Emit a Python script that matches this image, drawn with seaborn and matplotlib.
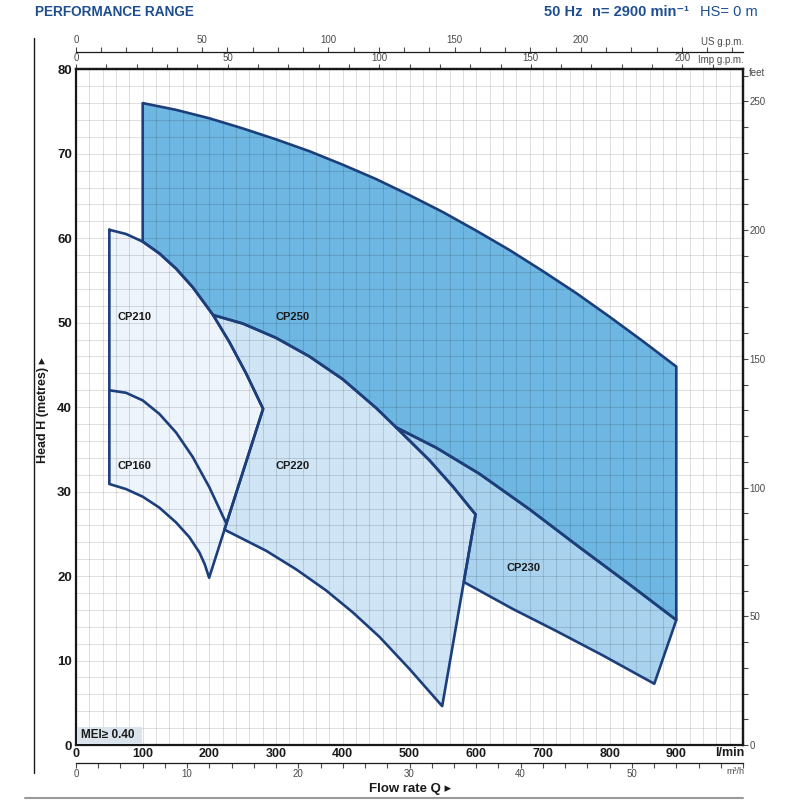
import numpy as np
import matplotlib
matplotlib.use("Agg")
import matplotlib.pyplot as plt
import seaborn as sns
from matplotlib.ticker import MultipleLocator, FixedLocator
from matplotlib.patches import Rectangle
from matplotlib.lines import Line2D

# ---------------- data (flow Q in l/min, head H in m) ----------------
cp250_top_q = [100, 150, 200, 250, 300, 350, 400, 450, 500, 550, 600, 650, 700, 750, 800, 850, 900]
cp250_top_h = [76.0, 75.2, 74.2, 73.0, 71.7, 70.3, 68.7, 67.0, 65.1, 63.1, 60.9, 58.6, 56.1, 53.5, 50.7, 47.8, 44.8]
cp250_right_h = 14.8

cp230_top_q = [480, 540, 605, 680, 755, 830, 900]
cp230_top_h = [37.6, 35.2, 32.1, 27.9, 23.4, 19.0, 14.8]
cp230_bot_q = [581.4, 655, 720, 790, 867]
cp230_bot_h = [19.3, 16.1, 13.5, 10.6, 7.25]

cp220_top_q = [205.6, 250, 300, 350, 400, 450, 480, 530, 565, 599]
cp220_top_h = [50.9, 49.9, 48.2, 46.0, 43.3, 39.9, 37.6, 33.7, 30.6, 27.3]
cp220_bot_q = [222.5, 285, 330, 375, 415, 455, 500, 549]
cp220_bot_h = [25.5, 23.0, 20.8, 18.3, 15.7, 12.8, 9.0, 4.6]

cp210_top_q = [50, 75, 100, 125, 150, 175, 205.6, 230, 255, 280.5]
cp210_top_h = [61.0, 60.5, 59.6, 58.2, 56.4, 54.2, 50.9, 47.7, 44.0, 39.8]
cp210_tip_q = 199.6
cp210_tip_h = 19.8

cp160_top_q = [50, 75, 100, 125, 150, 175, 200, 225.5]
cp160_top_h = [42.0, 41.7, 40.8, 39.2, 37.0, 34.1, 30.5, 26.2]
cp160_bot_q = [50, 75, 100, 125, 150, 170, 185, 193, 199.6]
cp160_bot_h = [30.9, 30.3, 29.4, 28.1, 26.35, 24.6, 22.8, 21.4, 19.8]

pump_names = ["CP250", "CP230", "CP220", "CP210", "CP160"]

x_tick_vals = [0, 100, 200, 300, 400, 500, 600, 700, 800, 900]
y_tick_vals = [0, 10, 20, 30, 40, 50, 60, 70, 80]
us_gpm_ticks = [0, 50, 100, 150, 200]
imp_gpm_ticks = [0, 50, 100, 150, 200]
m3h_ticks = [0, 10, 20, 30, 40, 50]
feet_ticks = [0, 50, 100, 150, 200, 250]

# ---------------- style ----------------
sns.set_theme(style="white")
FAM = ["Liberation Sans", "DejaVu Sans"]
plt.rcParams["font.family"] = FAM

BLUE_TXT = "#1f4e8f"
EDGE = "#1c3f7c"
C250 = "#6eb7e2"
C230 = "#a9d2ee"
C220 = "#cfe4f5"
C210 = "#eef4fb"
GRAY = "#4a4a4a"
INK = "#1a1a1a"

fig = plt.figure(figsize=(8, 8), dpi=100)
L, R, B, T = 76 / 800, 743 / 800, 1 - 745 / 800, 1 - 69.3 / 800
ax = fig.add_axes([L, B, R - L, T - B])
ax.set_xlim(0, 1000)
ax.set_ylim(0, 80)

a = np.asarray
t250q, t250h = a(cp250_top_q), a(cp250_top_h)
t230q, t230h = a(cp230_top_q), a(cp230_top_h)
b230q, b230h = a(cp230_bot_q), a(cp230_bot_h)
t220q, t220h = a(cp220_top_q), a(cp220_top_h)
b220q, b220h = a(cp220_bot_q), a(cp220_bot_h)
t210q, t210h = a(cp210_top_q), a(cp210_top_h)
t160q, t160h = a(cp160_top_q), a(cp160_top_h)
b160q, b160h = a(cp160_bot_q), a(cp160_bot_h)

# polygons built from the boundary arrays
m220_low = t220q <= t230q[0]
m210_low = (t210q >= t250q[0]) & (t210q < t220q[0])
poly250_q = np.concatenate([[t250q[0]], t250q, [t250q[-1]], t230q[::-1][1:],
                            t220q[m220_low][::-1][1:], t210q[m210_low][::-1]])
poly250_h = np.concatenate([[t210h[t210q == t250q[0]][0]], t250h, [cp250_right_h], t230h[::-1][1:],
                            t220h[m220_low][::-1][1:], t210h[m210_low][::-1]])

m220_mid = t220q > t230q[0]
poly230_q = np.concatenate([t230q, b230q[::-1], t220q[m220_mid][::-1]])
poly230_h = np.concatenate([t230h, b230h[::-1], t220h[m220_mid][::-1]])

m210_hi = t210q > t220q[0]
poly220_q = np.concatenate([t220q, b220q[::-1], t210q[m210_hi][::-1]])
poly220_h = np.concatenate([t220h, b220h[::-1], t210h[m210_hi][::-1]])

poly210_q = np.concatenate([t210q, [cp210_tip_q], b160q[::-1][1:]])
poly210_h = np.concatenate([t210h, [cp210_tip_h], b160h[::-1][1:]])

polys = [(poly250_q, poly250_h, C250), (poly230_q, poly230_h, C230),
         (poly220_q, poly220_h, C220), (poly210_q, poly210_h, C210)]

for q, h, c in polys:
    ax.fill(q, h, color=c, lw=0, zorder=1)
for q, h, c in polys:
    qc = np.append(q, q[0])
    hc = np.append(h, h[0])
    sns.lineplot(x=qc, y=hc, sort=False, estimator=None, color=EDGE, lw=1.9,
                 ax=ax, zorder=3, solid_joinstyle="round")
sns.lineplot(x=t160q, y=t160h, sort=False, estimator=None, color=EDGE, lw=1.9, ax=ax,
             zorder=3, solid_joinstyle="round")

# labels of the regions
label_pos = {"CP250": (325, 50.7), "CP230": (671, 20.9), "CP220": (325, 33.0),
             "CP210": (88, 50.7), "CP160": (88, 33.0)}
for name in pump_names:
    px, py = label_pos[name]
    ax.text(px, py, name, ha="center", va="center", fontsize=8, fontweight="bold",
            color=INK, zorder=5)

# grid
ax.set_axisbelow(False)
ax.set_xticks(x_tick_vals)
ax.set_yticks(y_tick_vals)
ax.xaxis.set_minor_locator(MultipleLocator(20))
ax.yaxis.set_minor_locator(MultipleLocator(2))
ax.grid(which="both", color="black", alpha=0.12, linewidth=0.75)
ax.tick_params(axis="both", which="both", length=0)
ax.tick_params(axis="x", pad=2.5)
ax.tick_params(axis="y", pad=3)
for lab in ax.get_xticklabels():
    lab.set_fontweight("bold"); lab.set_fontsize(9); lab.set_color(INK)
for lab in ax.get_yticklabels():
    lab.set_fontweight("bold"); lab.set_fontsize(9.5); lab.set_color(INK)
ax.set_xlabel(""); ax.set_ylabel("")
for s in ax.spines.values():
    s.set_visible(True); s.set_linewidth(1.6); s.set_color(INK)

# MEI box
ax.add_patch(Rectangle((2, 0.15), 97, 2.0, facecolor="#dbe4ec", edgecolor="none", zorder=4))
ax.text(8, 1.15, "MEI≥ 0.40", ha="left", va="center", fontsize=8.5, fontweight="bold",
        color=INK, zorder=5)

# secondary scales
def style_sec(sa, which_spine, lw=0.9):
    sa.tick_params(which="both", direction="out", length=3.5, width=0.8, colors=GRAY,
                   labelsize=7, pad=1)
    sa.spines[which_spine].set_linewidth(lw)
    sa.spines[which_spine].set_color(INK)

imp = ax.secondary_xaxis("top", functions=(lambda q: q / 4.546, lambda g: g * 4.546))
imp.xaxis.set_major_locator(FixedLocator(imp_gpm_ticks))
imp.xaxis.set_minor_locator(MultipleLocator(10))
style_sec(imp, "top", lw=1.6)

us = ax.secondary_xaxis((745 - 51.7) / 675.7, functions=(lambda q: q / 3.785, lambda g: g * 3.785))
us.xaxis.set_major_locator(FixedLocator(us_gpm_ticks))
us.xaxis.set_minor_locator(MultipleLocator(10))
style_sec(us, "top")

m3 = ax.secondary_xaxis(-(763 - 745) / 675.7, functions=(lambda q: q * 0.06, lambda m: m / 0.06))
m3.xaxis.set_major_locator(FixedLocator(m3h_ticks))
m3.xaxis.set_minor_locator(MultipleLocator(2))
style_sec(m3, "bottom")

ft = ax.secondary_yaxis("right", functions=(lambda h: h / 0.3048, lambda f: f * 0.3048))
ft.yaxis.set_major_locator(FixedLocator(feet_ticks))
ft.yaxis.set_minor_locator(MultipleLocator(10))
style_sec(ft, "right", lw=1.6)

# unit labels
fig.text(744 / 800, 1 - 42 / 800, "US g.p.m.", ha="right", va="center", fontsize=7, color=GRAY)
fig.text(744 / 800, 1 - 60 / 800, "Imp g.p.m.", ha="right", va="center", fontsize=7, color=GRAY)
fig.text(749 / 800, 1 - 73 / 800, "feet", ha="left", va="center", fontsize=7, color=GRAY)
fig.text(744 / 800, 1 - 753 / 800, "l/min", ha="right", va="center", fontsize=9,
         fontweight="bold", color=INK)
fig.text(744 / 800, 1 - 772 / 800, "m³/h", ha="right", va="center", fontsize=6.5, color=GRAY)

# axis titles
fig.text(43 / 800, 1 - 410 / 800, "Head H (metres) ▸", rotation=90, ha="center", va="center",
         fontsize=9, fontweight="bold", color=INK)
fig.text(410 / 800, 1 - 789 / 800, "Flow rate Q ▸", ha="center", va="center",
         fontsize=9.5, fontweight="bold", color=INK)

# header
fig.text(35 / 800, 1 - 12.5 / 800, "PERFORMANCE RANGE", ha="left", va="center",
         fontsize=9.8, fontweight="bold", color=BLUE_TXT)
fig.text(758 / 800, 1 - 12.5 / 800, "HS= 0 m", ha="right", va="center",
         fontsize=10.5, color=BLUE_TXT)
fig.text(689 / 800, 1 - 12.5 / 800, "n= 2900 min⁻¹", ha="right",
         va="center", fontsize=10.5, fontweight="bold", color=BLUE_TXT)
fig.text(582 / 800, 1 - 12.5 / 800, "50 Hz", ha="right",
         va="center", fontsize=10.5, fontweight="bold", color=BLUE_TXT)

# decorative frame lines
fig.add_artist(Line2D([34.3 / 800, 34.3 / 800], [1 - 38 / 800, 1 - 773 / 800],
                      color=INK, lw=1.0))
fig.add_artist(Line2D([25 / 800, 743 / 800], [1 - 798 / 800, 1 - 798 / 800],
                      color="#9a9a9a", lw=1.5))

fig.savefig("out.png", dpi=100)
